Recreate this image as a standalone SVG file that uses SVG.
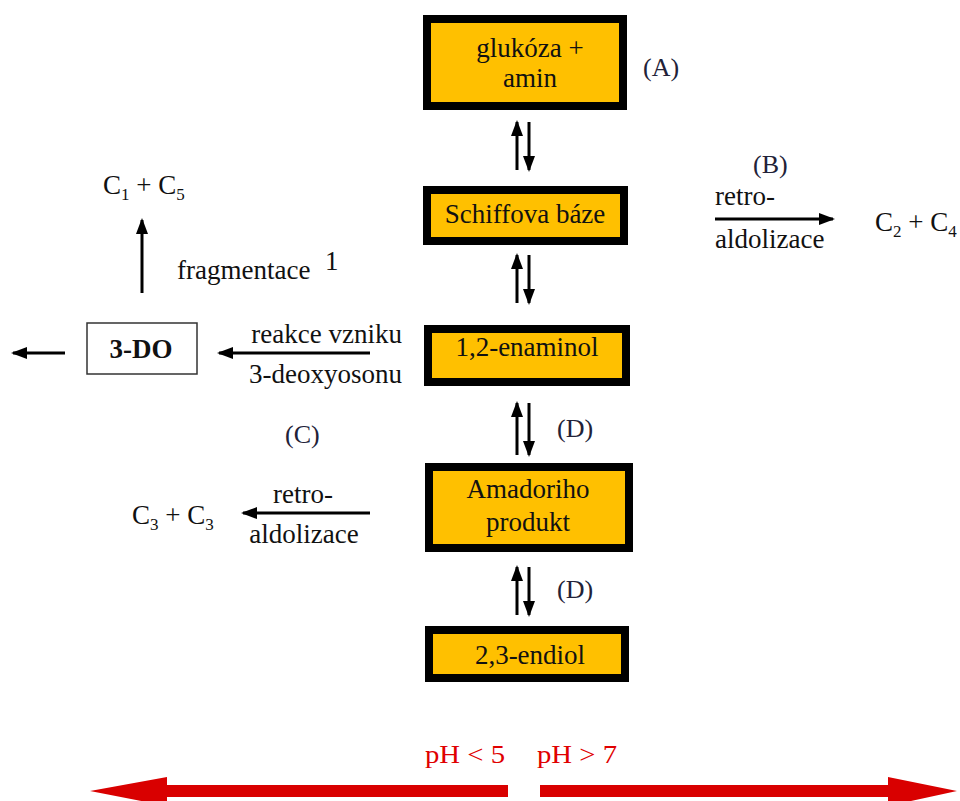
<svg xmlns="http://www.w3.org/2000/svg" width="960" height="801" viewBox="0 0 960 801" font-family="'Liberation Serif', 'DejaVu Serif', serif">
<style>
text{font-family:'Liberation Serif','DejaVu Serif',serif}
.t{font-size:27px;fill:#111}
.c{text-anchor:middle}
.lbl{font-size:26px;fill:#222238}
.box{fill:#FFC000;stroke:#000;stroke-width:8}
.ln{stroke:#000;stroke-width:3;fill:none}
.red{font-size:26px;fill:#E00000}
</style>
<defs>
<marker id="ah" markerWidth="16" markerHeight="12" refX="14" refY="6" orient="auto" markerUnits="userSpaceOnUse">
<path d="M0,0 L16,6 L0,12 Z" fill="#000"/>
</marker>
</defs>
<g id="n-glukoza">
<rect class="box" x="427" y="19" width="196" height="87"/>
<text class="t c" x="530" y="57">glukóza +</text>
<text class="t c" x="530" y="87">amin</text>
</g>
<g id="n-schiff">
<rect class="box" x="427" y="190" width="197" height="51"/>
<text class="t c" x="525" y="223">Schiffova báze</text>
</g>
<g id="n-enaminol">
<rect class="box" x="428" y="329" width="198" height="53"/>
<text class="t c" x="527" y="356">1,2-enaminol</text>
</g>
<g id="n-amadori">
<rect class="box" x="429" y="467" width="200" height="81"/>
<text class="t c" x="528" y="498">Amadoriho</text>
<text class="t c" x="528" y="531">produkt</text>
</g>
<g id="n-endiol">
<rect class="box" x="429" y="630" width="196" height="48"/>
<text class="t c" x="530" y="664">2,3-endiol</text>
</g>
<g id="n-3do">
<rect x="87" y="323" width="110" height="51" fill="#fff" stroke="#333" stroke-width="1.5"/>
<text class="t c" x="141" y="358" font-weight="bold" font-size="28">3-DO</text>
</g>
<g id="n-c1c5"><text class="t" x="103" y="194">C<tspan font-size="17" dy="6">1</tspan><tspan dy="-6"> + C</tspan><tspan font-size="17" dy="6">5</tspan></text></g>
<g id="n-c2c4"><text class="t" x="875" y="231">C<tspan font-size="17" dy="6">2</tspan><tspan dy="-6"> + C</tspan><tspan font-size="17" dy="6">4</tspan></text></g>
<g id="n-c3c3"><text class="t" x="132" y="524">C<tspan font-size="17" dy="6">3</tspan><tspan dy="-6"> + C</tspan><tspan font-size="17" dy="6">3</tspan></text></g>
<g id="connectors">
<line class="ln" x1="517" y1="170" x2="517" y2="122" marker-end="url(#ah)"/>
<line class="ln" x1="529" y1="122" x2="529" y2="170" marker-end="url(#ah)"/>
<line class="ln" x1="517" y1="303" x2="517" y2="255" marker-end="url(#ah)"/>
<line class="ln" x1="529" y1="255" x2="529" y2="303" marker-end="url(#ah)"/>
<line class="ln" x1="517" y1="455" x2="517" y2="403" marker-end="url(#ah)"/>
<line class="ln" x1="529" y1="403" x2="529" y2="455" marker-end="url(#ah)"/>
<line class="ln" x1="517" y1="615" x2="517" y2="567" marker-end="url(#ah)"/>
<line class="ln" x1="529" y1="567" x2="529" y2="615" marker-end="url(#ah)"/>
<line class="ln" x1="715" y1="219" x2="833" y2="219" marker-end="url(#ah)"/>
<line class="ln" x1="370" y1="353" x2="219" y2="353" marker-end="url(#ah)"/>
<line class="ln" x1="65" y1="353" x2="13" y2="353" marker-end="url(#ah)"/>
<line class="ln" x1="142" y1="293" x2="142" y2="220" marker-end="url(#ah)"/>
<line class="ln" x1="370" y1="513" x2="243" y2="513" marker-end="url(#ah)"/>
<polygon points="90,791 167,777 167,785 508,785 508,797 167,797 167,806" fill="#D90000"/>
<polygon points="957,791 888,777 888,785 540,785 540,797 888,797 888,806" fill="#D90000"/>
</g>
<text class="lbl" x="643" y="76">(A)</text>
<text class="lbl" x="753" y="173">(B)</text>
<text class="lbl" x="285" y="443">(C)</text>
<text class="lbl" x="557" y="437">(D)</text>
<text class="lbl" x="557" y="598">(D)</text>
<text class="t" x="715" y="205">retro-</text>
<text class="t" x="715" y="248">aldolizace</text>
<text class="t" x="177" y="279">fragmentace</text>
<text class="t" x="325" y="270" font-size="14">1</text>
<text class="t" x="402" y="343" text-anchor="end">reakce vzniku</text>
<text class="t" x="402" y="383" text-anchor="end">3-deoxyosonu</text>
<text class="t" x="303" y="503" text-anchor="middle">retro-</text>
<text class="t" x="304" y="543" text-anchor="middle">aldolizace</text>
<text class="red" x="425" y="763" textLength="80" lengthAdjust="spacingAndGlyphs">pH &lt; 5</text>
<text class="red" x="537" y="763" textLength="80" lengthAdjust="spacingAndGlyphs">pH &gt; 7</text>
</svg>
